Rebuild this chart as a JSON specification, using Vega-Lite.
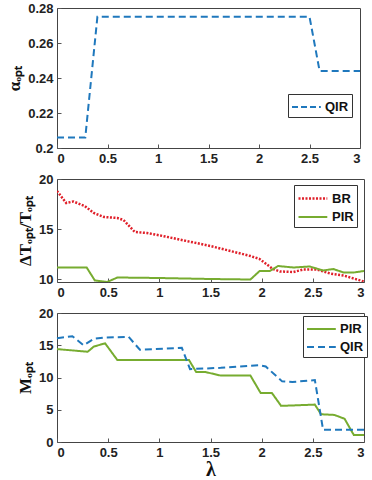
{
  "$schema": "https://vega.github.io/schema/vega-lite/v6.json",
  "background": "white",
  "padding": {"left": 5, "top": 1, "right": 9, "bottom": 0},
  "spacing": 31,
  "bounds": "flush",
  "resolve": {
    "scale": {"color": "independent", "strokeDash": "independent", "strokeWidth": "independent"},
    "legend": {"color": "independent", "strokeDash": "independent"}
  },
  "datasets": {
    "alpha": [
      {"lambda": 0, "value": 0.206, "series": "QIR"},
      {"lambda": 0.28, "value": 0.206, "series": "QIR"},
      {"lambda": 0.4, "value": 0.275, "series": "QIR"},
      {"lambda": 2.5, "value": 0.275, "series": "QIR"},
      {"lambda": 2.6, "value": 0.244, "series": "QIR"},
      {"lambda": 3, "value": 0.244, "series": "QIR"}
    ],
    "dt": [
      {"lambda": 0, "value": 18.8, "series": "BR"},
      {"lambda": 0.09, "value": 17.6, "series": "BR"},
      {"lambda": 0.16, "value": 17.75, "series": "BR"},
      {"lambda": 0.27, "value": 17.3, "series": "BR"},
      {"lambda": 0.36, "value": 16.6, "series": "BR"},
      {"lambda": 0.46, "value": 16.2, "series": "BR"},
      {"lambda": 0.59, "value": 16.1, "series": "BR"},
      {"lambda": 0.65, "value": 15.9, "series": "BR"},
      {"lambda": 0.76, "value": 14.7, "series": "BR"},
      {"lambda": 0.88, "value": 14.6, "series": "BR"},
      {"lambda": 1.01, "value": 14.35, "series": "BR"},
      {"lambda": 1.5, "value": 13.3, "series": "BR"},
      {"lambda": 1.89, "value": 12.3, "series": "BR"},
      {"lambda": 1.98, "value": 12.0, "series": "BR"},
      {"lambda": 2.11, "value": 11.0, "series": "BR"},
      {"lambda": 2.18, "value": 10.75, "series": "BR"},
      {"lambda": 2.31, "value": 10.7, "series": "BR"},
      {"lambda": 2.41, "value": 10.95, "series": "BR"},
      {"lambda": 2.54, "value": 10.95, "series": "BR"},
      {"lambda": 2.67, "value": 10.55, "series": "BR"},
      {"lambda": 2.8, "value": 10.35, "series": "BR"},
      {"lambda": 3, "value": 9.75, "series": "BR"},
      {"lambda": 0, "value": 11.15, "series": "PIR"},
      {"lambda": 0.29, "value": 11.15, "series": "PIR"},
      {"lambda": 0.37, "value": 9.85, "series": "PIR"},
      {"lambda": 0.49, "value": 9.7, "series": "PIR"},
      {"lambda": 0.59, "value": 10.15, "series": "PIR"},
      {"lambda": 1.0, "value": 10.1, "series": "PIR"},
      {"lambda": 1.5, "value": 10.0, "series": "PIR"},
      {"lambda": 1.89, "value": 9.95, "series": "PIR"},
      {"lambda": 1.98, "value": 10.8, "series": "PIR"},
      {"lambda": 2.08, "value": 10.8, "series": "PIR"},
      {"lambda": 2.16, "value": 11.3, "series": "PIR"},
      {"lambda": 2.31, "value": 11.15, "series": "PIR"},
      {"lambda": 2.47, "value": 11.25, "series": "PIR"},
      {"lambda": 2.6, "value": 10.85, "series": "PIR"},
      {"lambda": 2.7, "value": 11.0, "series": "PIR"},
      {"lambda": 2.8, "value": 10.65, "series": "PIR"},
      {"lambda": 2.9, "value": 10.65, "series": "PIR"},
      {"lambda": 3, "value": 10.8, "series": "PIR"}
    ],
    "m": [
      {"lambda": 0, "value": 14.4, "series": "PIR"},
      {"lambda": 0.3, "value": 14.0, "series": "PIR"},
      {"lambda": 0.36, "value": 14.8, "series": "PIR"},
      {"lambda": 0.47, "value": 15.3, "series": "PIR"},
      {"lambda": 0.59, "value": 12.7, "series": "PIR"},
      {"lambda": 1.29, "value": 12.7, "series": "PIR"},
      {"lambda": 1.36, "value": 10.85, "series": "PIR"},
      {"lambda": 1.45, "value": 10.85, "series": "PIR"},
      {"lambda": 1.6, "value": 10.3, "series": "PIR"},
      {"lambda": 1.89, "value": 10.3, "series": "PIR"},
      {"lambda": 1.99, "value": 7.6, "series": "PIR"},
      {"lambda": 2.1, "value": 7.6, "series": "PIR"},
      {"lambda": 2.19, "value": 5.6, "series": "PIR"},
      {"lambda": 2.52, "value": 5.8, "series": "PIR"},
      {"lambda": 2.58, "value": 4.3, "series": "PIR"},
      {"lambda": 2.71, "value": 4.2, "series": "PIR"},
      {"lambda": 2.81, "value": 3.6, "series": "PIR"},
      {"lambda": 2.9, "value": 1.1, "series": "PIR"},
      {"lambda": 3, "value": 1.1, "series": "PIR"},
      {"lambda": 0, "value": 16.1, "series": "QIR"},
      {"lambda": 0.15, "value": 16.4, "series": "QIR"},
      {"lambda": 0.26, "value": 15.0, "series": "QIR"},
      {"lambda": 0.36, "value": 16.0, "series": "QIR"},
      {"lambda": 0.46, "value": 16.2, "series": "QIR"},
      {"lambda": 0.7, "value": 16.3, "series": "QIR"},
      {"lambda": 0.81, "value": 14.3, "series": "QIR"},
      {"lambda": 0.95, "value": 14.4, "series": "QIR"},
      {"lambda": 1.22, "value": 14.6, "series": "QIR"},
      {"lambda": 1.3, "value": 11.3, "series": "QIR"},
      {"lambda": 1.6, "value": 11.5, "series": "QIR"},
      {"lambda": 1.98, "value": 11.9, "series": "QIR"},
      {"lambda": 2.04, "value": 11.7, "series": "QIR"},
      {"lambda": 2.2, "value": 9.4, "series": "QIR"},
      {"lambda": 2.3, "value": 9.3, "series": "QIR"},
      {"lambda": 2.52, "value": 9.6, "series": "QIR"},
      {"lambda": 2.6, "value": 1.9, "series": "QIR"},
      {"lambda": 3, "value": 1.9, "series": "QIR"}
    ]
  },
  "config": {
    "view": {"stroke": "#444", "strokeWidth": 1},
    "axis": {
      "labelFont": "Liberation Sans", "labelFontWeight": "bold", "labelFontSize": 13, "labelColor": "#222",
      "grid": false, "domain": false, "tickColor": "#555", "tickSize": -4, "labelPadding": 8,
      "titleFont": "Liberation Serif", "titleFontWeight": "bold", "titleFontSize": 17, "titleColor": "#111"
    },
    "legend": {
      "symbolType": "M-1,0H2.2", "symbolSize": 324, "symbolStrokeWidth": 2, "labelOffset": 14,
      "labelFont": "Liberation Sans", "labelFontWeight": "bold", "labelFontSize": 13, "labelColor": "#111",
      "strokeColor": "#333", "fillColor": "white", "padding": 3, "rowPadding": 1, "cornerRadius": 0
    }
  },
  "vconcat": [
    {
      "width": 303, "height": 140,
      "data": {"name": "alpha"},
      "mark": {"type": "line", "strokeWidth": 2, "strokeDash": [7, 4]},
      "encoding": {
        "x": {"field": "lambda", "type": "quantitative", "scale": {"domain": [0, 3]},
              "axis": {"values": [0, 0.5, 1, 1.5, 2, 2.5, 3], "format": "~g", "title": null}},
        "y": {"field": "value", "type": "quantitative", "scale": {"domain": [0.2, 0.28]},
              "axis": {"values": [0.2, 0.22, 0.24, 0.26, 0.28], "format": "~g", "title": "αₒₚₜ"}},
        "color": {"field": "series", "type": "nominal", "scale": {"domain": ["QIR"], "range": ["#1f78bd"]},
                  "legend": {"orient": "none", "legendX": 231, "legendY": 86, "title": null, "symbolDash": [6, 3]}}
      }
    },
    {
      "width": 307, "height": 103,
      "data": {"name": "dt"},
      "mark": {"type": "line", "clip": true},
      "encoding": {
        "x": {"field": "lambda", "type": "quantitative", "scale": {"domain": [0, 3]},
              "axis": {"values": [0, 0.5, 1, 1.5, 2, 2.5, 3], "format": "~g", "title": null}},
        "y": {"field": "value", "type": "quantitative", "scale": {"domain": [9.7, 20]},
              "axis": {"values": [10, 15, 20], "format": "~g", "title": "ΔTₒₚₜ/Tₒₚₜ"}},
        "color": {"field": "series", "type": "nominal", "scale": {"domain": ["BR", "PIR"], "range": ["#e0202a", "#77ac30"]},
                  "legend": {"orient": "none", "legendX": 237, "legendY": 6, "title": null}},
        "strokeDash": {"field": "series", "type": "nominal", "scale": {"domain": ["BR", "PIR"], "range": [[2, 1.5], [1, 0]]},
                  "legend": {"orient": "none", "legendX": 237, "legendY": 6, "title": null}},
        "strokeWidth": {"field": "series", "type": "nominal", "scale": {"domain": ["BR", "PIR"], "range": [2.5, 2]}, "legend": null}
      }
    },
    {
      "width": 307, "height": 129,
      "data": {"name": "m"},
      "mark": {"type": "line", "strokeWidth": 2},
      "encoding": {
        "x": {"field": "lambda", "type": "quantitative", "scale": {"domain": [0, 3]},
              "axis": {"values": [0, 0.5, 1, 1.5, 2, 2.5, 3], "format": "~g", "title": "λ", "titleFontSize": 20, "titlePadding": 0}},
        "y": {"field": "value", "type": "quantitative", "scale": {"domain": [0, 20]},
              "axis": {"values": [0, 5, 10, 15, 20], "format": "~g", "title": "Mₒₚₜ"}},
        "color": {"field": "series", "type": "nominal", "scale": {"domain": ["PIR", "QIR"], "range": ["#77ac30", "#1f78bd"]},
                  "legend": {"orient": "none", "legendX": 246, "legendY": 3, "title": null}},
        "strokeDash": {"field": "series", "type": "nominal", "scale": {"domain": ["PIR", "QIR"], "range": [[1, 0], [7, 4]]},
                  "legend": {"orient": "none", "legendX": 246, "legendY": 3, "title": null}}
      }
    }
  ]
}
